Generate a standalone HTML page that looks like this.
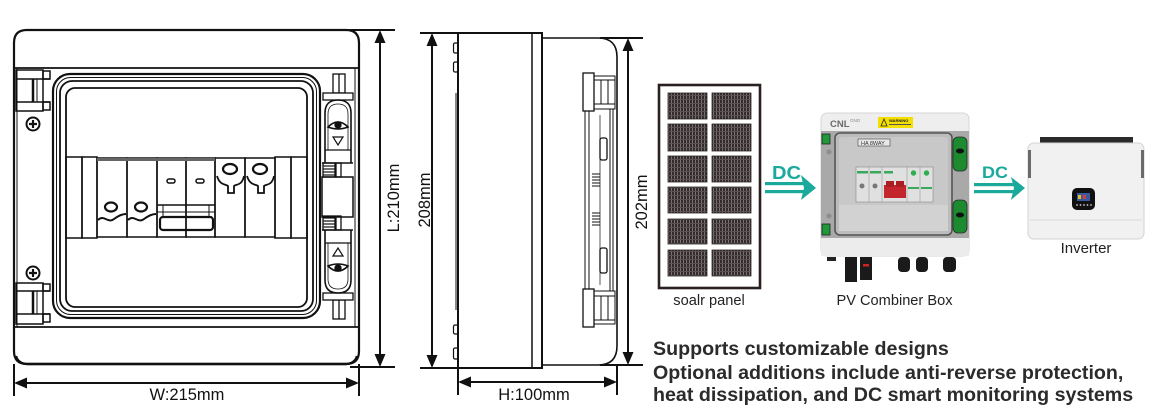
<!DOCTYPE html>
<html><head><meta charset="utf-8"><style>
html,body{margin:0;padding:0;background:#fff;}
svg{display:block;}
text{font-family:"Liberation Sans",Arial,sans-serif;}
</style></head><body>
<svg width="1155" height="409" viewBox="0 0 1155 409" xmlns="http://www.w3.org/2000/svg">
<defs>
<pattern id="cellp" width="3" height="4" patternUnits="userSpaceOnUse">
 <rect width="3" height="4" fill="#342c2c"/>
 <rect x="2" width="1" height="4" fill="#7a7272"/>
 <rect y="3" width="3" height="1" fill="#5a5252"/>
</pattern>
<g id="latch" fill="none" stroke="#111" stroke-width="1.3">
 <rect x="333" y="74" width="12" height="19"/>
 <line x1="339" y1="74" x2="339" y2="93"/>
 <rect x="323" y="93" width="30" height="7" fill="#fff"/>
 <path d="M325,163 L325,113 Q325,100 338,100 Q351,100 351,113 L351,163" stroke-width="1.6"/>
 <path d="M328,150 L328,114 Q328,104 338,104 Q348,104 348,114 L348,150" stroke-width="0.8"/>
 <line x1="325" y1="150" x2="351" y2="150"/>
 <line x1="322" y1="163" x2="353" y2="163" stroke-width="1.6"/>
 <path d="M328,127 Q338,117 348,127 Q338,131 328,127 Z" stroke-width="1.6"/>
 <circle cx="338" cy="125" r="3" fill="#111"/>
 <polygon points="333,137 343,137 338,145" stroke-width="1.2"/>
 <rect x="323" y="163" width="12" height="14"/>
 <line x1="323" y1="166" x2="335" y2="166" stroke-width="1.2"/>
 <line x1="323" y1="169" x2="335" y2="169" stroke-width="1.2"/>
 <line x1="323" y1="172" x2="335" y2="172" stroke-width="1.2"/>
 <line x1="323" y1="175" x2="335" y2="175" stroke-width="1.2"/>
 <rect x="336" y="163" width="5" height="14"/>
</g>
</defs>
<rect width="1155" height="409" fill="#fff"/>

<!-- ================= FRONT VIEW ================= -->
<g fill="none" stroke="#111" stroke-width="1.5">
 <path d="M14,43 Q14,30 27,30 L346,30 Q359,30 359,43 L359,351 Q359,364 346,364 L27,364 Q14,364 14,351 Z" stroke-width="2.2"/>
 <path d="M16,356 Q18,364 28,364 L345,364 Q355,364 357,356" stroke-width="2.5"/>
 <line x1="14" y1="68" x2="359" y2="68" stroke-width="1.8"/>
 <line x1="14" y1="327" x2="359" y2="327" stroke-width="1.8"/>
 <line x1="17" y1="68" x2="17" y2="327" stroke-width="1"/>
 <line x1="355" y1="68" x2="355" y2="327" stroke-width="1"/>

 <!-- gasket -->
 <rect x="53" y="74" width="267" height="244" rx="17" stroke-width="2.2"/>
 <rect x="56.5" y="77.5" width="260" height="237" rx="14" stroke-width="1"/>
 <rect x="60" y="81" width="253" height="230" rx="12" stroke-width="1.8"/>
 <rect x="66" y="88" width="241" height="219" rx="9" stroke-width="1.8"/>

 <!-- breakers -->
 <rect x="66" y="157" width="16" height="81"/>
 <rect x="82" y="157" width="15" height="81"/>
 <rect x="97" y="158" width="30" height="79"/>
 <rect x="127" y="158" width="30" height="79"/>
 <rect x="157" y="158" width="29" height="79"/>
 <rect x="186" y="158" width="29" height="79"/>
 <rect x="215" y="158" width="30" height="79"/>
 <rect x="245" y="158" width="30" height="79"/>
 <rect x="275" y="157" width="16" height="81"/>
 <rect x="291" y="157" width="16" height="81"/>
 <rect x="97" y="158" width="118" height="3" fill="#666" stroke="none"/>
 <!-- fuses -->
 <ellipse cx="111" cy="207" rx="6" ry="4.5" stroke-width="2.2"/>
 <ellipse cx="141" cy="207" rx="6" ry="4.5" stroke-width="2.2"/>
 <path d="M98,220 C104,214 108,224 114,219 C118,216 122,214 126,214" stroke-width="2"/>
 <path d="M128,220 C134,214 138,224 144,219 C148,216 152,214 156,214" stroke-width="2"/>
 <!-- isolator -->
 <rect x="167" y="179" width="8" height="4" rx="2" stroke-width="1.5"/>
 <rect x="196" y="179" width="8" height="4" rx="2" stroke-width="1.5"/>
 <line x1="157" y1="205" x2="215" y2="205"/>
 <line x1="157" y1="212" x2="215" y2="212" stroke-width="1"/>
 <line x1="163" y1="205" x2="163" y2="217" stroke-width="1"/>
 <line x1="209" y1="205" x2="209" y2="217" stroke-width="1"/>
 <rect x="160" y="217" width="53" height="13" rx="3" stroke-width="2.2"/>
 <!-- SPD -->
 <ellipse cx="230" cy="169" rx="7" ry="5" stroke-width="2.2"/>
 <ellipse cx="260" cy="169" rx="7" ry="5" stroke-width="2.2"/>
 <path d="M217,176 C220,186 226,184 228,186 L228,193 L234,193 L234,186 C236,184 242,186 244,176" stroke-width="1.8"/>
 <path d="M247,176 C250,186 256,184 258,186 L258,193 L264,193 L264,186 C266,184 272,186 274,176" stroke-width="1.8"/>

 <!-- left hinges -->
 <rect x="16" y="70" width="27" height="41"/>
 <line x1="16" y1="79" x2="50" y2="79"/>
 <line x1="16" y1="102" x2="50" y2="102"/>
 <line x1="33" y1="79" x2="33" y2="102" stroke-width="2.5"/>
 <line x1="37" y1="79" x2="37" y2="102" stroke-width="1"/>
 <rect x="43" y="71" width="7" height="8"/>
 <rect x="43" y="102" width="7" height="8"/>
 <rect x="16" y="283" width="27" height="41"/>
 <line x1="16" y1="291" x2="50" y2="291"/>
 <line x1="16" y1="314" x2="50" y2="314"/>
 <line x1="33" y1="291" x2="33" y2="314" stroke-width="2.5"/>
 <line x1="37" y1="291" x2="37" y2="314" stroke-width="1"/>
 <rect x="43" y="284" width="7" height="7"/>
 <rect x="43" y="314" width="7" height="8"/>
 <!-- screws -->
 <circle cx="33" cy="124" r="6.5" stroke-width="2"/>
 <path d="M29,124 H37 M33,120 V128" stroke-width="2.2"/>
 <circle cx="33" cy="273" r="6.5" stroke-width="2"/>
 <path d="M29,273 H37 M33,269 V277" stroke-width="2.2"/>

 <!-- right latches -->
 <rect x="322" y="177" width="31" height="40"/>
</g>
<use href="#latch"/>
<use href="#latch" transform="translate(0,393) scale(1,-1)"/>

<!-- front dimensions -->
<g stroke="#111" stroke-width="2" fill="none">
 <line x1="14" y1="364" x2="14" y2="396"/>
 <line x1="359" y1="364" x2="359" y2="396"/>
 <line x1="24" y1="383" x2="349" y2="383"/>
 <line x1="346" y1="30" x2="395" y2="30"/>
 <line x1="350" y1="367" x2="395" y2="367"/>
 <line x1="380" y1="40" x2="380" y2="356"/>
</g>
<g fill="#111">
 <polygon points="14,383 27,377.5 27,388.5"/>
 <polygon points="359,383 346,377.5 346,388.5"/>
 <polygon points="380,30 374.5,43 385.5,43"/>
 <polygon points="380,367 374.5,354 385.5,354"/>
</g>
<text x="187" y="400" font-size="16.5" text-anchor="middle" fill="#111">W:215mm</text>
<text transform="translate(399,198) rotate(-90)" font-size="16.5" text-anchor="middle" fill="#111">L:210mm</text>

<!-- ================= SIDE VIEW ================= -->
<g fill="none" stroke="#111" stroke-width="1.5">
 <rect x="458" y="33" width="84" height="335" stroke-width="2"/>
 <line x1="532" y1="33" x2="532" y2="368"/>
 <path d="M542,38 L598,38 Q617,38 617,57 L617,346 Q617,365 598,365 L542,365" stroke-width="1.6"/>
 <rect x="453.5" y="43" width="4.5" height="10" rx="1.5" stroke-width="1.2"/>
 <rect x="453.5" y="62" width="4.5" height="10" rx="1.5" stroke-width="1.2"/>
 <rect x="453.5" y="325" width="4.5" height="9" rx="1.5" stroke-width="1.2"/>
 <rect x="453.5" y="348" width="4.5" height="11" rx="1.5" stroke-width="1.2"/>
 <line x1="456" y1="93" x2="456" y2="310" stroke="#888" stroke-width="2"/>
 <!-- hinge strip -->
 <rect x="583" y="73" width="11" height="38" stroke-width="1.3"/>
 <rect x="594" y="76" width="21" height="33" stroke-width="1"/>
 <line x1="594" y1="80" x2="615" y2="80" stroke-width="1"/>
 <line x1="594" y1="104" x2="615" y2="104" stroke-width="1"/>
 <line x1="601" y1="80" x2="601" y2="104" stroke-width="1"/>
 <line x1="608" y1="80" x2="608" y2="104" stroke-width="1"/>
 <rect x="583" y="289" width="11" height="38" stroke-width="1.3"/>
 <rect x="594" y="291" width="21" height="33" stroke-width="1"/>
 <line x1="594" y1="296" x2="615" y2="296" stroke-width="1"/>
 <line x1="594" y1="320" x2="615" y2="320" stroke-width="1"/>
 <line x1="601" y1="296" x2="601" y2="320" stroke-width="1"/>
 <line x1="608" y1="296" x2="608" y2="320" stroke-width="1"/>
 <line x1="585" y1="111" x2="585" y2="289" stroke-width="1"/>
 <line x1="589" y1="111" x2="589" y2="289" stroke-width="1"/>
 <line x1="610" y1="109" x2="610" y2="291" stroke-width="1"/>
 <line x1="613" y1="109" x2="613" y2="291" stroke-width="1"/>
 <line x1="600" y1="115" x2="600" y2="285" stroke-width="0.7"/>
 <rect x="600" y="138" width="7" height="22" rx="2" stroke-width="1.3"/>
 <rect x="600" y="248" width="7" height="25" rx="2" stroke-width="1.3"/>
 <path d="M592,174 H600 M592,177 H600 M592,180 H600 M592,183 H600 M592,186 H600" stroke-width="1"/>
 <path d="M592,213 H600 M592,216 H600 M592,219 H600 M592,222 H600 M592,225 H600" stroke-width="1"/>
</g>
<g stroke="#111" stroke-width="2" fill="none">
 <line x1="420" y1="33" x2="458" y2="33"/>
 <line x1="420" y1="368" x2="458" y2="368"/>
 <line x1="432" y1="43" x2="432" y2="358"/>
 <line x1="600" y1="38" x2="643" y2="38"/>
 <line x1="600" y1="365" x2="643" y2="365"/>
 <line x1="628" y1="48" x2="628" y2="355"/>
 <line x1="458" y1="368" x2="458" y2="395"/>
 <line x1="617" y1="365" x2="617" y2="395"/>
 <line x1="468" y1="382" x2="607" y2="382"/>
</g>
<g fill="#111">
 <polygon points="432,33 426.5,46 437.5,46"/>
 <polygon points="432,368 426.5,355 437.5,355"/>
 <polygon points="628,38 622.5,51 633.5,51"/>
 <polygon points="628,365 622.5,352 633.5,352"/>
 <polygon points="458,382 471,376.5 471,387.5"/>
 <polygon points="617,382 604,376.5 604,387.5"/>
</g>
<text transform="translate(430,200) rotate(-90)" font-size="16.5" text-anchor="middle" fill="#111">208mm</text>
<text transform="translate(647,202) rotate(-90)" font-size="16.5" text-anchor="middle" fill="#111">202mm</text>
<text x="534" y="400" font-size="16.5" text-anchor="middle" fill="#111">H:100mm</text>

<!-- ================= SOLAR PANEL ================= -->
<rect x="659" y="85" width="101" height="203" fill="#fff" stroke="#2b2020" stroke-width="2.6"/>
<g stroke="#2a2424" stroke-width="0.8" fill="url(#cellp)">
 <rect x="668" y="93" width="39" height="26"/><rect x="712" y="93" width="39" height="26"/>
 <rect x="668" y="124" width="39" height="27"/><rect x="712" y="124" width="39" height="27"/>
 <rect x="668" y="156" width="39" height="26"/><rect x="712" y="156" width="39" height="26"/>
 <rect x="668" y="187" width="39" height="26"/><rect x="712" y="187" width="39" height="26"/>
 <rect x="668" y="219" width="39" height="25"/><rect x="712" y="219" width="39" height="25"/>
 <rect x="668" y="250" width="39" height="26"/><rect x="712" y="250" width="39" height="26"/>
</g>
<text x="709" y="305" font-size="14.6" text-anchor="middle" fill="#222">soalr panel</text>

<!-- DC arrow 1 -->
<text x="772" y="179" font-size="18" font-weight="bold" fill="#1aa99b" textLength="29" lengthAdjust="spacingAndGlyphs">DC</text>
<rect x="765" y="182" width="40" height="3.2" fill="#1aa99b"/>
<rect x="765" y="190" width="40" height="3.2" fill="#1aa99b"/>
<polygon points="801,175 816,188 801,200 804,188" fill="#1aa99b"/>

<!-- ================= COMBINER BOX ================= -->
<rect x="821" y="113" width="148" height="143" rx="6" fill="#eeeeee" stroke="#d6d6d6"/>
<text x="830" y="127" font-size="9.5" font-weight="bold" fill="#6a6a6a">CNL</text>
<text x="850" y="122" font-size="4.5" fill="#888">ONO</text>
<rect x="878" y="117" width="35" height="11" fill="#f3df00"/>
<polygon points="881,126 884,119 887,126" fill="none" stroke="#222" stroke-width="0.8"/>
<text x="889" y="122" font-size="4" font-weight="bold" fill="#222">WARNING</text>
<rect x="889" y="124" width="22" height="1" fill="#555"/>
<rect x="821" y="131" width="148" height="107" fill="#a9a9a9"/>
<rect x="835" y="133" width="117" height="102" rx="5" fill="#bcbcbc" stroke="#555" stroke-width="1.6"/>
<rect x="839" y="137" width="109" height="94" rx="3" fill="#c8c8c8"/>
<rect x="839" y="205" width="109" height="26" fill="#d2d2d2"/>
<rect x="858" y="139" width="32" height="7" fill="#e8e8e8" stroke="#444" stroke-width="0.6"/>
<text x="861" y="145" font-size="5.5" fill="#333">HA 8WAY</text>
<circle cx="829" cy="152" r="2.5" fill="#8d8d8d"/>
<circle cx="829" cy="216" r="2.5" fill="#8d8d8d"/>
<rect x="856" y="167" width="77" height="35" fill="#e0e0e0" stroke="#888" stroke-width="0.6"/>
<g stroke="#999" stroke-width="0.6">
 <line x1="869" y1="167" x2="869" y2="202"/><line x1="882" y1="167" x2="882" y2="202"/>
 <line x1="907" y1="167" x2="907" y2="202"/><line x1="920" y1="167" x2="920" y2="202"/>
</g>
<rect x="857" y="171" width="11" height="2.5" fill="#39a85a"/>
<rect x="870" y="171" width="11" height="2.5" fill="#39a85a"/>
<rect x="884" y="171" width="9" height="2.5" fill="#39a85a"/>
<circle cx="862" cy="186" r="2.5" fill="#777"/>
<circle cx="875" cy="186" r="2.5" fill="#777"/>
<circle cx="913.5" cy="173" r="2.7" fill="#2fae4e"/>
<circle cx="926.5" cy="173" r="2.7" fill="#2fae4e"/>
<rect x="908" y="187" width="11" height="2" fill="#39a85a"/>
<rect x="921" y="187" width="11" height="2" fill="#39a85a"/>
<rect x="884" y="185" width="22" height="13" fill="#c3262d"/>
<rect x="886" y="181" width="8" height="6" fill="#a91d23"/>
<rect x="896" y="181" width="8" height="6" fill="#a91d23"/>
<rect x="822" y="134" width="8" height="10" fill="#1f9a3a" stroke="#222" stroke-width="0.8"/>
<rect x="822" y="224" width="8" height="11" fill="#1f9a3a" stroke="#222" stroke-width="0.8"/>
<rect x="953" y="137" width="14" height="34" rx="5" fill="#1d8a30" stroke="#2a2a2a" stroke-width="0.8"/>
<ellipse cx="960" cy="151" rx="4" ry="2.5" fill="#111"/>
<rect x="953" y="200" width="14" height="33" rx="5" fill="#1d8a30" stroke="#2a2a2a" stroke-width="0.8"/>
<ellipse cx="960" cy="215" rx="4" ry="2.5" fill="#111"/>
<rect x="821" y="238" width="148" height="18" fill="#ececec"/>
<rect x="827" y="257" width="9" height="4" fill="#222"/>
<rect x="845" y="257" width="12" height="25" fill="#1a1a1a"/>
<rect x="860" y="257" width="12" height="23" fill="#1a1a1a"/>
<rect x="863" y="264" width="6" height="2.5" fill="#c22"/>
<rect x="898" y="257" width="12" height="15" rx="4" fill="#1a1a1a"/>
<rect x="916" y="257" width="12" height="15" rx="4" fill="#1a1a1a"/>
<rect x="943" y="257" width="13" height="15" rx="4" fill="#1a1a1a"/>
<text x="894.5" y="305" font-size="14.6" text-anchor="middle" fill="#222">PV Combiner Box</text>

<!-- DC arrow 2 -->
<text x="982" y="178" font-size="17" font-weight="bold" fill="#1aa99b" textLength="26" lengthAdjust="spacingAndGlyphs">DC</text>
<rect x="974" y="183" width="41" height="3.2" fill="#1aa99b"/>
<rect x="974" y="190" width="41" height="3.2" fill="#1aa99b"/>
<polygon points="1011,177 1025,188 1011,200 1014,188" fill="#1aa99b"/>

<!-- ================= INVERTER ================= -->
<rect x="1040" y="137" width="93" height="7" fill="#2b2b2b"/>
<rect x="1028" y="143" width="116" height="96" rx="6" fill="#f1f1f1" stroke="#d3d3d3"/>
<rect x="1028" y="150" width="3" height="28" fill="#6a6a6a"/>
<rect x="1141" y="150" width="3" height="28" fill="#6a6a6a"/>
<line x1="1030" y1="220" x2="1142" y2="220" stroke="#dcdcdc" stroke-width="1"/>
<rect x="1072" y="188" width="23" height="22" rx="5" fill="#111"/>
<rect x="1077" y="193" width="13" height="8" fill="#3a5aa0"/>
<rect x="1078" y="195" width="3" height="4" fill="#e0c030"/>
<rect x="1083" y="195" width="3" height="4" fill="#d04040"/>
<g fill="#ccc"><circle cx="1077" cy="205" r="0.9"/><circle cx="1080.5" cy="205" r="0.9"/><circle cx="1084" cy="205" r="0.9"/><circle cx="1087.5" cy="205" r="0.9"/><circle cx="1091" cy="205" r="0.9"/></g>
<text x="1086" y="253" font-size="15" text-anchor="middle" fill="#222">Inverter</text>

<!-- ================= BOTTOM TEXT ================= -->
<g font-size="19.65" font-weight="bold" fill="#2b2b2b">
 <text x="653" y="355">Supports customizable designs</text>
 <text x="653" y="379">Optional additions include anti-reverse protection,</text>
 <text x="653" y="401">heat dissipation, and DC smart monitoring systems</text>
</g>
</svg>
</body></html>
